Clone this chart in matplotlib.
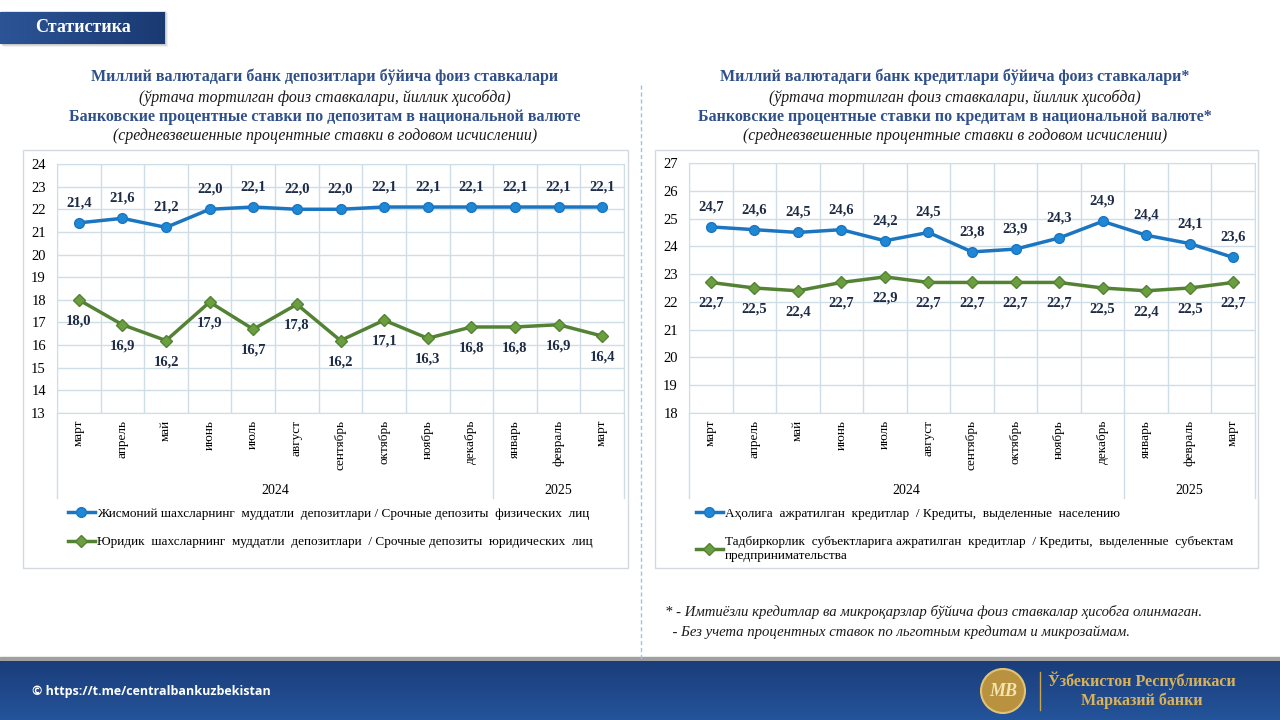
import matplotlib.pyplot as plt
import numpy as np
from matplotlib.lines import Line2D
from matplotlib.patches import Rectangle, Circle
import matplotlib.transforms as mtransforms
from matplotlib.colors import LinearSegmentedColormap

# ---- data ----
months = ['март', 'апрель', 'май', 'июнь', 'июль', 'август', 'сентябрь',
          'октябрь', 'ноябрь', 'декабрь', 'январь', 'февраль', 'март']
years = ['2024', '2025']
year_counts = [10, 3]

dep_phys = [21.4, 21.6, 21.2, 22.0, 22.1, 22.0, 22.0, 22.1, 22.1, 22.1, 22.1, 22.1, 22.1]
dep_jur = [18.0, 16.9, 16.2, 17.9, 16.7, 17.8, 16.2, 17.1, 16.3, 16.8, 16.8, 16.9, 16.4]
cred_pop = [24.7, 24.6, 24.5, 24.6, 24.2, 24.5, 23.8, 23.9, 24.3, 24.9, 24.4, 24.1, 23.6]
cred_bus = [22.7, 22.5, 22.4, 22.7, 22.9, 22.7, 22.7, 22.7, 22.7, 22.5, 22.4, 22.5, 22.7]

left_titles = ['Миллий валютадаги банк депозитлари бўйича фоиз ставкалари',
               '(ўртача тортилган фоиз ставкалари, йиллик ҳисобда)',
               'Банковские процентные ставки по депозитам в национальной валюте',
               '(средневзвешенные процентные ставки в годовом исчислении)']
right_titles = ['Миллий валютадаги банк кредитлари бўйича фоиз ставкалари*',
                '(ўртача тортилган фоиз ставкалари, йиллик ҳисобда)',
                'Банковские процентные ставки по кредитам в национальной валюте*',
                '(средневзвешенные процентные ставки в годовом исчислении)']
left_legend = ['Жисмоний шахсларнинг  муддатли  депозитлари / Срочные депозиты  физических  лиц',
               'Юридик  шахсларнинг  муддатли  депозитлари  / Срочные депозиты  юридических  лиц']
right_legend = ['Аҳолига  ажратилган  кредитлар  / Кредиты,  выделенные  населению',
                'Тадбиркорлик  субъектларига ажратилган  кредитлар  / Кредиты,  выделенные  субъектам\nпредпринимательства']
footnotes = ['* - Имтиёзли кредитлар ва микроқарзлар бўйича фоиз ставкалар ҳисобга олинмаган.',
             '  - Без учета процентных ставок по льготным кредитам и микрозаймам.']

SERIF = 'Liberation Serif'
BLUE = '#1b75c0'
BLUE_M = '#1f88d6'
GREEN = '#548235'
GREEN_M = '#6a9e3f'
TITLE_C = '#30508a'
LABEL_C = '#1e2b45'
GRID_C = '#cfdde6'

W, H = 1280, 720
fig = plt.figure(figsize=(12.8, 7.2), dpi=100)
fig.patch.set_facecolor('white')


def rect(x0, y0, x1, y1):
    return [x0 / W, 1 - y1 / H, (x1 - x0) / W, (y1 - y0) / H]


def fx(x):
    return x / W


def fy(y):
    return 1 - y / H


# header box with soft shadow
for k, a in enumerate([0.10, 0.14, 0.20]):
    fig.patches.append(Rectangle((fx(3 - k), fy(47 - k)), fx(165), 34 / H,
                                 transform=fig.transFigure, color='#707070', alpha=a,
                                 lw=0, zorder=-2))
hax = fig.add_axes(rect(0, 12, 165, 44))
hax.set_zorder(2)
grad = np.linspace(0, 1, 100).reshape(1, -1)
hax.imshow(grad, aspect='auto', cmap=LinearSegmentedColormap.from_list(
    'h', ['#2c5496', '#1a3a72']), extent=[0, 1, 0, 1])
hax.set_axis_off()
fig.text(fx(83), fy(28), 'Статистика', color='white', fontsize=13, fontweight='bold',
         family=SERIF, ha='center', va='center', zorder=5)

# footer
fig.patches.append(Rectangle((0, fy(662)), 1, 5 / H, transform=fig.transFigure,
                             color='#a0a0a0', zorder=-2))
fax = fig.add_axes(rect(0, 661, 1280, 720))
fgrad = np.linspace(0, 1, 100).reshape(-1, 1)
fax.imshow(fgrad, aspect='auto', cmap=LinearSegmentedColormap.from_list(
    'f', ['#1b3d7a', '#24549a']), extent=[0, 1, 0, 1])
fax.set_axis_off()
fig.text(fx(32), fy(691), '© https://t.me/centralbankuzbekistan', color='white', fontsize=9,
         fontweight='bold', family='Open Sans', ha='left', va='center')
fig.patches.append(Circle((10.03, (720 - 691) / 100), 0.22, transform=fig.dpi_scale_trans,
                          facecolor='#b8923e', edgecolor='#e2c275', lw=1.5, zorder=5))
fig.text(fx(1003), fy(691), 'MB', color='#f4e4b0', fontsize=13, fontweight='bold',
         style='italic', family=SERIF, ha='center', va='center', zorder=6)
fig.add_artist(Line2D([fx(1040), fx(1040)], [fy(672), fy(710)], color='#c9a449', lw=1))
fig.text(fx(1142), fy(681), 'Ўзбекистон Республикаси', color='#d9b25a', fontsize=11.5,
         fontweight='bold', family=SERIF, ha='center', va='center')
fig.text(fx(1142), fy(701), 'Марказий банки', color='#d9b25a', fontsize=11.5,
         fontweight='bold', family=SERIF, ha='center', va='center')

# dashed separator
fig.add_artist(Line2D([fx(641), fx(641)], [fy(85), fy(660)], color='#9dc3e6', lw=1,
                      linestyle=(0, (3, 2))))


def draw_chart(frame, plot, ymin, ymax, s1, s2, titles, tcx, legend, leg_x, leg_y):
    # titles
    ty = [77, 98, 117, 136]
    for i, t in enumerate(titles):
        if i % 2 == 0:
            fig.text(fx(tcx), fy(ty[i]), t, color=TITLE_C, fontsize=11.5, fontweight='bold',
                     family=SERIF, ha='center', va='center')
        else:
            fig.text(fx(tcx), fy(ty[i]), t, color='#1a1a1a', fontsize=11.4, style='italic',
                     family=SERIF, ha='center', va='center')
    # frame
    fx0, fy0, fx1, fy1 = frame
    fig.patches.append(Rectangle((fx(fx0), fy(fy1)), (fx1 - fx0) / W, (fy1 - fy0) / H,
                                 transform=fig.transFigure, facecolor='none',
                                 edgecolor='#d3d9de', lw=1, zorder=0))
    ax = fig.add_axes(rect(*plot))
    ax.patch.set_alpha(0)
    x = np.arange(len(months))
    ax.set_xlim(-0.5, len(months) - 0.5)
    ax.set_ylim(ymin, ymax)
    ax.set_yticks(np.arange(ymin, ymax + 1))
    ax.set_yticklabels([str(v) for v in range(ymin, ymax + 1)], family=SERIF, fontsize=10.5)
    ax.set_xticks(x)
    ax.set_xticklabels(months, rotation=90, family=SERIF, fontsize=9.5, va='top')
    ax.set_xticks(np.arange(-0.5, len(months)), minor=True)
    ax.tick_params(axis='y', length=0, pad=8)
    ax.tick_params(axis='x', length=0, pad=5)
    ax.tick_params(axis='x', which='minor', length=0)
    ax.grid(True, axis='y', color=GRID_C, lw=1)
    ax.grid(True, axis='x', which='minor', color=GRID_C, lw=1)
    for sp in ax.spines.values():
        sp.set_color(GRID_C)
    ax.set_axisbelow(True)

    l1, = ax.plot(x, s1, color=BLUE, lw=2.5, marker='o', ms=7, mfc=BLUE_M, mec=BLUE,
                  mew=1, label=legend[0])
    l2, = ax.plot(x, s2, color=GREEN, lw=2.5, marker='D', ms=6, mfc=GREEN_M, mec=GREEN,
                  mew=1, label=legend[1])
    for xi, v in zip(x, s1):
        ax.annotate(f'{v:.1f}'.replace('.', ','), (xi, v), xytext=(0, 20),
                    textcoords='offset pixels', ha='center', va='center', fontsize=10.5,
                    fontweight='bold', family=SERIF, color=LABEL_C)
    for xi, v in zip(x, s2):
        ax.annotate(f'{v:.1f}'.replace('.', ','), (xi, v), xytext=(0, -21),
                    textcoords='offset pixels', ha='center', va='center', fontsize=10.5,
                    fontweight='bold', family=SERIF, color=LABEL_C)

    # year group labels + separators
    trans = mtransforms.blended_transform_factory(ax.transData, ax.transAxes)
    ph = plot[3] - plot[1]
    depth = -85 / ph
    start = -0.5
    bounds = [start]
    for yr, n in zip(years, year_counts):
        end = start + n
        ax.text((start + end) / 2, depth + 7 / ph, yr, transform=trans,
                ha='center', va='center', family=SERIF, fontsize=10)
        bounds.append(end)
        start = end
    for b in bounds:
        ax.plot([b, b], [0, depth], transform=trans, color=GRID_C, lw=1, clip_on=False)

    ax.legend(handles=[l1, l2], loc='upper left',
              bbox_to_anchor=(fx(leg_x), fy(leg_y)), bbox_transform=fig.transFigure,
              frameon=False, prop={'family': SERIF, 'size': 9.5}, handlelength=2.0,
              handletextpad=0.15, labelspacing=1.25, borderaxespad=0)
    return ax


draw_chart((23, 150, 628, 568), (57, 164, 624, 413), 13, 24, dep_phys, dep_jur,
           left_titles, 325, left_legend, 63, 502)
draw_chart((655, 150, 1258, 568), (689, 163, 1255, 413), 18, 27, cred_pop, cred_bus,
           right_titles, 955, right_legend, 691, 502)

for i, t in enumerate(footnotes):
    fig.text(fx(665), fy(612 + 20 * i), t, fontsize=10.6, style='italic', family=SERIF,
             ha='left', va='center', color='#1a1a1a')

fig.savefig('out.png', dpi=100)
